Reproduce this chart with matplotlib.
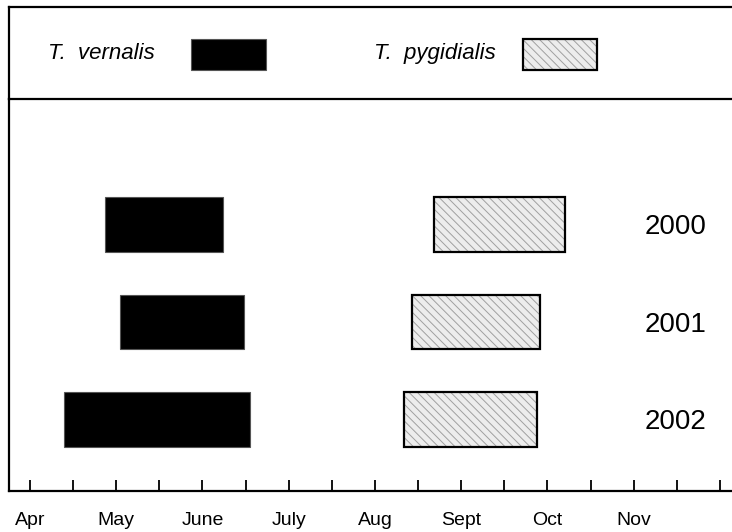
"""
Flight periods of two Tachinid species, 2000-2002.
"""

import matplotlib
matplotlib.use("Agg")
import matplotlib.pyplot as plt
from matplotlib.patches import Rectangle

# month numbers (Apr = 4)
years = ["2000", "2001", "2002"]
vernalis_start = [4.87, 5.04, 4.39]
vernalis_end = [6.24, 6.48, 6.55]
pygidialis_start = [8.68, 8.43, 8.34]
pygidialis_end = [10.20, 9.91, 9.88]
month_ticks = [4, 5, 6, 7, 8, 9, 10, 11, 12]
month_labels = ["Apr", "May", "June", "July", "Aug", "Sept", "Oct", "Nov", ""]

plt.rcParams["font.family"] = ["Liberation Sans", "DejaVu Sans"]
plt.rcParams["hatch.linewidth"] = 0.7

W, H = 732, 532
fig = plt.figure(figsize=(W / 100, H / 100), dpi=100)

# main panel: x 9..732 px, y 99..491 px
ax = fig.add_axes([9 / W, (H - 491) / H, (W - 9) / W, (491 - 99) / H])
# legend strip: y 7..99 px
lax = fig.add_axes([9 / W, (H - 99) / H, (W - 9) / W, (99 - 7) / H])
lax.patch.set_visible(False)

ypos = [3, 2, 1]
bar_h = 0.555
hatch_face = "#ededed"
hatch_col = "#a0a0a0"

for y, s, e in zip(ypos, vernalis_start, vernalis_end):
    ax.barh(y, e - s, left=s, height=bar_h, color="black",
            edgecolor="#555555", linewidth=0.8)

for y, s, e in zip(ypos, pygidialis_start, pygidialis_end):
    ax.barh(y, e - s, left=s, height=bar_h, color=hatch_face,
            edgecolor=hatch_col, linewidth=0, hatch="\\\\\\\\")
    ax.barh(y, e - s, left=s, height=bar_h, fill=False,
            edgecolor="black", linewidth=1.6)

for y, yr in zip(ypos, years):
    ax.text(11.49, y - 0.03, yr, fontsize=20, ha="center", va="center")

ax.set_xlim(3.757, 12.14)
ax.set_ylim(0.267, 4.287)
ax.set_xticks(month_ticks)
ax.set_xticklabels(month_labels, fontsize=14)
ax.set_xticks([m + 0.5 for m in month_ticks[:-1]], minor=True)
ax.tick_params(axis="x", which="both", direction="in", length=8, width=1.3,
               pad=15)
ax.set_yticks([])
ax.spines["right"].set_visible(False)
for side in ["left", "bottom", "top"]:
    ax.spines[side].set_linewidth(1.6)

# legend strip
lax.set_xlim(0, 1)
lax.set_ylim(0, 1)
lax.set_xticks([])
lax.set_yticks([])
lax.spines["right"].set_visible(False)
lax.spines["bottom"].set_visible(False)
lax.spines["top"].set_linewidth(1.6)
lax.spines["left"].set_linewidth(1.6)

lax.text(0.054, 0.49, "T.  vernalis", fontsize=16, style="italic",
         ha="left", va="center")
lax.add_patch(Rectangle((0.252, 0.315), 0.104, 0.337, facecolor="black",
                        edgecolor="#555555", linewidth=0.8))
lax.text(0.505, 0.49, "T.  pygidialis", fontsize=16, style="italic",
         ha="left", va="center")
lax.add_patch(Rectangle((0.711, 0.315), 0.102, 0.337, facecolor=hatch_face,
                        edgecolor=hatch_col, linewidth=0, hatch="\\\\\\\\"))
lax.add_patch(Rectangle((0.711, 0.315), 0.102, 0.337, fill=False,
                        edgecolor="black", linewidth=1.6))

fig.savefig("out.png", dpi=100)
plt.close(fig)
